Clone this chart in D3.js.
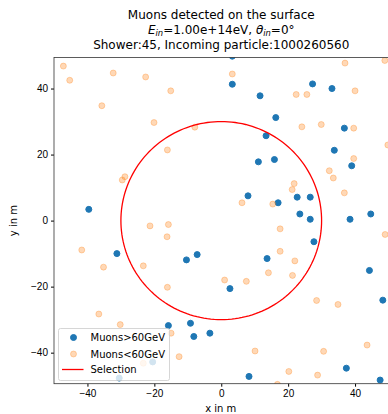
<!DOCTYPE html>
<html>
<head>
    <title>Muons</title>
    <meta charset="utf-8">
    <script src="https://d3js.org/d3.v7.min.js"></script>
    <style>
        body { margin: 0; background: #fff; }
        svg { display: block; font-family: "DejaVu Sans", sans-serif; }
        .tick text { font-size: 10px; fill: #000; }
        .tick line { stroke: #000; }
    </style>
</head>
<body>
<svg id="myGraph" width="388" height="414"></svg>
<script>
    // muons above 60 GeV (m)
    var hiX = [-39.6, 3.3, 3.3, 11.6, 16.3, 13.4, 11.1, 15.9, 8.0, 17.0, 27.3, 33.1, 36.8, 33.8, 39.0,
               22.7, 26.6, 23.5, 26.6, 38.5, 44.7, -31.2, -10.4, -7.2, 13.7, 2.6, -15.8, -9.2, -8.2,
               -3.4, -20.5, -30.5, 8.3, 27.7, 44.3, 48.3, 37.4, 47.5];
    var hiY = [3.4, 49.8, 41.3, 37.8, 31.2, 25.7, 17.8, 18.5, 7.5, 5.4, 41.4, 40.0, 28.0, 21.3, 16.6,
               7.1, 7.1, 2.0, 0.4, 0.4, 2.0, -10.0, -11.9, -10.3, -11.5, -20.6, -31.8, -31.1, -35.1,
               -34.1, -42.8, -47.7, -47.2, -6.4, -15.1, -24.1, -44.7, -48.3];

    // muons below 60 GeV (m)
    var loX = [-47.2, -45.3, -32.3, -22.6, -35.7, -20.1, -15.1, -7.9, -16.1, -28.8, -29.6, 3.3, 6.2, 15.4,
               37.0, 48.9, 40.0, 22.4, 25.6, 24.1, 29.9, 39.6, 49.8, 39.6, 32.3, 33.5, 21.8, 21.2, 36.8,
               -21.3, -15.8, -16.2, -41.7, -35.2, -23.3, -16.1, -36.6, -30.2, -23.3, 17.6, 17.6, 14.1,
               1.0, 7.5, -15.0, -12.6, 10.1, 49.0, 22.0, 21.3, 28.5, 34.9, 43.6, 30.6, 20.2, 28.8, 16.8];
    var loY = [46.8, 42.5, 44.7, 43.5, 34.8, 29.7, 39.3, 28.3, 21.4, 13.3, 12.3, 44.4, 5.4, 5.0,
               47.7, 48.5, 39.3, 38.2, 38.2, 28.4, 29.1, 28.0, 22.9, 18.8, 15.1, 12.9, 11.2, 9.4, 8.4,
               -1.6, -1.2, -4.9, -8.9, -14.1, -13.7, -20.2, -28.3, -31.5, -43.2, -2.5, -9.3, -15.8,
               -18.0, -18.4, -34.1, -41.2, -39.5, -4.2, -12.2, -16.6, -24.2, -25.4, -37.7, -39.6, -45.7, -46.8, -49.6];

    var selectionRadius = 30;
    var xTicks = [-40, -20, 0, 20, 40];
    var yTicks = [-40, -20, 0, 20, 40];
    var titleLines = ["Muons detected on the surface", "", "Shower:45, Incoming particle:1000260560"];
    var legendLabels = ["Muons>60GeV", "Muons<60GeV", "Selection"];

    var blue = "#1f77b4", orange = "#ff7f0e", red = "#ff0000";

    var svg = d3.select("#myGraph");

    // axes box (right edge falls just outside the picture)
    var pLeft = 54, pRight = 388.5, pTop = 57.5, pBottom = 383.7;
    var x = d3.scaleLinear().domain([-50, 50]).range([pLeft, pRight]);
    var y = d3.scaleLinear().domain([-49.4, 49.4]).range([pBottom, pTop]);

    svg.append("clipPath").attr("id", "plotClip")
        .append("rect")
        .attr("x", pLeft).attr("y", pTop)
        .attr("width", pRight - pLeft).attr("height", pBottom - pTop);

    var plot = svg.append("g").attr("clip-path", "url(#plotClip)");

    // high energy muons
    plot.selectAll("circle.hi")
        .data(d3.range(hiX.length))
        .enter()
        .append("circle")
        .attr("class", "hi")
        .attr("cx", function (i) { return x(hiX[i]); })
        .attr("cy", function (i) { return y(hiY[i]); })
        .attr("r", 3)
        .attr("fill", blue)
        .attr("stroke", blue)
        .attr("stroke-width", 1);

    // low energy muons, faded
    plot.selectAll("circle.lo")
        .data(d3.range(loX.length))
        .enter()
        .append("circle")
        .attr("class", "lo")
        .attr("cx", function (i) { return x(loX[i]); })
        .attr("cy", function (i) { return y(loY[i]); })
        .attr("r", 3)
        .attr("fill", orange)
        .attr("fill-opacity", 0.3)
        .attr("stroke", orange)
        .attr("stroke-opacity", 0.3)
        .attr("stroke-width", 1);

    // selection circle
    var angles = d3.range(0, 361, 2);
    var circleLine = d3.line()
        .x(function (a) { return x(selectionRadius * Math.cos(a * Math.PI / 180)); })
        .y(function (a) { return y(selectionRadius * Math.sin(a * Math.PI / 180)); });
    plot.append("path")
        .datum(angles)
        .attr("d", circleLine)
        .attr("fill", "none")
        .attr("stroke", red)
        .attr("stroke-width", 1.3);

    // axes
    var gx = svg.append("g")
        .attr("transform", "translate(0," + pBottom + ")")
        .call(d3.axisBottom(x).tickValues(xTicks).tickSize(3).tickPadding(3));
    var gy = svg.append("g")
        .attr("transform", "translate(" + pLeft + ",0)")
        .call(d3.axisLeft(y).tickValues(yTicks).tickSize(3).tickPadding(3));
    gx.select(".domain").remove();
    gy.select(".domain").remove();

    // spines
    svg.append("rect")
        .attr("x", pLeft).attr("y", pTop)
        .attr("width", pRight - pLeft).attr("height", pBottom - pTop)
        .attr("fill", "none")
        .attr("stroke", "#333")
        .attr("stroke-width", 0.8);

    // axis labels
    svg.append("text")
        .attr("x", (pLeft + pRight) / 2 - 0.5).attr("y", 412)
        .attr("text-anchor", "middle")
        .attr("font-size", 10)
        .text("x in m");
    svg.append("text")
        .attr("transform", "translate(17," + ((pTop + pBottom) / 2) + ") rotate(-90)")
        .attr("text-anchor", "middle")
        .attr("font-size", 10)
        .text("y in m");

    // title
    var cx = (pLeft + pRight) / 2;
    svg.append("text").attr("x", cx).attr("y", 18.5)
        .attr("text-anchor", "middle").attr("font-size", 12).text(titleLines[0]);
    var t2 = svg.append("text").attr("x", cx).attr("y", 33.5)
        .attr("text-anchor", "middle").attr("font-size", 12);
    t2.append("tspan").attr("font-style", "italic").text("E");
    t2.append("tspan").attr("font-style", "italic").attr("font-size", 8.4).attr("dy", 2).text("in");
    t2.append("tspan").attr("dy", -2).text("=1.00e+14eV, ");
    t2.append("tspan").attr("font-style", "italic").text("\u03b8");
    t2.append("tspan").attr("font-style", "italic").attr("font-size", 8.4).attr("dy", 2).text("in");
    t2.append("tspan").attr("dy", -2).text("=0\u00b0");
    svg.append("text").attr("x", cx).attr("y", 49)
        .attr("text-anchor", "middle").attr("font-size", 12).text(titleLines[2]);

    // legend
    var lg = svg.append("g").attr("transform", "translate(58.5,328.5)");
    lg.append("rect")
        .attr("width", 111).attr("height", 52)
        .attr("rx", 2)
        .attr("fill", "#fff").attr("fill-opacity", 0.8)
        .attr("stroke", "#ccc").attr("stroke-width", 0.8);
    var rows = [9, 25.5, 41];
    lg.append("circle").attr("cx", 15).attr("cy", rows[0]).attr("r", 3)
        .attr("fill", blue).attr("stroke", blue);
    lg.append("circle").attr("cx", 15).attr("cy", rows[1]).attr("r", 3)
        .attr("fill", orange).attr("fill-opacity", 0.3)
        .attr("stroke", orange).attr("stroke-opacity", 0.3);
    lg.append("line").attr("x1", 3.5).attr("x2", 25).attr("y1", rows[2]).attr("y2", rows[2])
        .attr("stroke", red).attr("stroke-width", 1.3);
    lg.selectAll("text.lab")
        .data(legendLabels)
        .enter()
        .append("text")
        .attr("class", "lab")
        .attr("x", 32)
        .attr("y", function (d, i) { return rows[i] + 3.6; })
        .attr("font-size", 10)
        .text(function (d) { return d; });
</script>
</body>
</html>
